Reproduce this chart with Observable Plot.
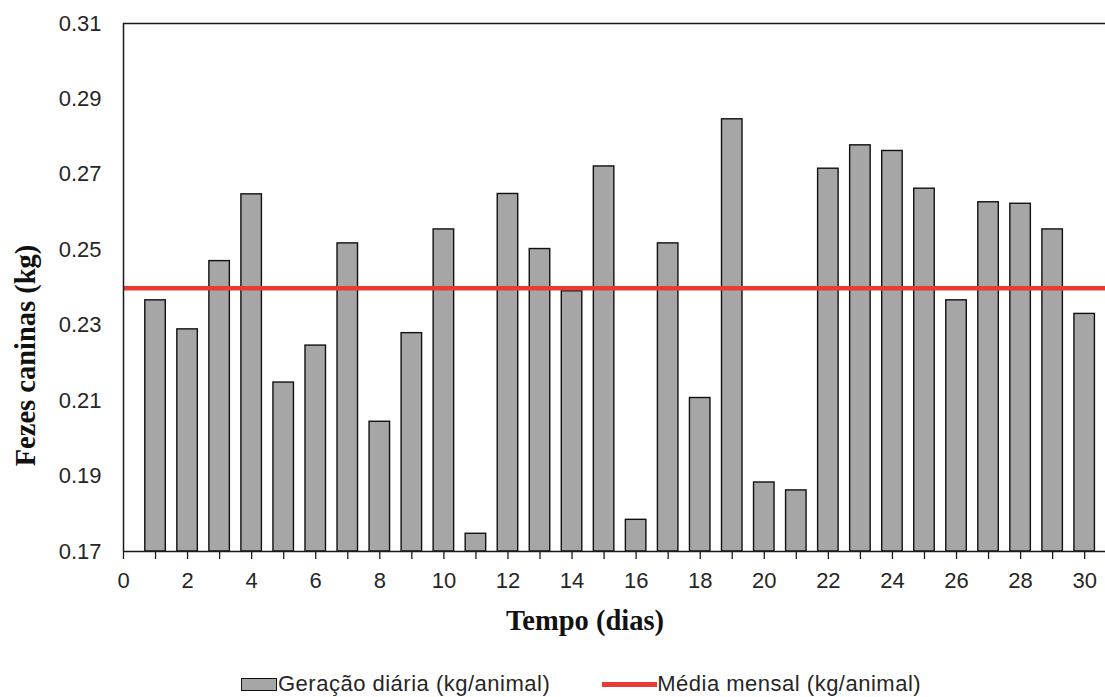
<!DOCTYPE html>
<html>
<head>
<meta charset="utf-8">
<script src="https://cdn.jsdelivr.net/npm/d3@7"></script>
<script src="https://cdn.jsdelivr.net/npm/@observablehq/plot@0.6"></script>
<style>
  body { margin: 0; background: #fff; }
  #wrap { position: relative; width: 1105px; height: 697px; overflow: hidden; }
  #chart svg { display: block; }
  #legend {
    position: absolute; top: 673px; left: 241px;
    display: flex; align-items: center;
    font-family: "Liberation Sans", Arial, sans-serif; font-size: 22px; line-height: 22px;
    color: #262626; letter-spacing: 0.5px; white-space: nowrap;
  }
  .sw-bar { width: 36px; height: 13px; background: #a6a6a6; border: 1.5px solid #111; box-sizing: border-box; margin-right: 1px; }
  .sw-line { width: 55px; height: 5px; background: #ea3b32; margin-left: 52px; }
</style>
</head>
<body>
<div id="wrap">
  <div id="chart"></div>
  <div id="legend"></div>
</div>
<script>
// ---- data ----
const days = [1, 2, 3, 4, 5, 6, 7, 8, 9, 10, 11, 12, 13, 14, 15, 16, 17, 18, 19, 20, 21, 22, 23, 24, 25, 26, 27, 28, 29, 30];
const daily = [0.2366, 0.2289, 0.2470, 0.2647, 0.2148, 0.2246, 0.2517, 0.2044, 0.2279, 0.2554,
               0.1747, 0.2648, 0.2502, 0.2390, 0.2721, 0.1784, 0.2517, 0.2107, 0.2846, 0.1883,
               0.1862, 0.2715, 0.2777, 0.2762, 0.2662, 0.2366, 0.2626, 0.2622, 0.2554, 0.2330];
const monthlyMean = [0.2398];
const yTicks = [0.17, 0.19, 0.21, 0.23, 0.25, 0.27, 0.29, 0.31];
const xLabelTicks = [0, 2, 4, 6, 8, 10, 12, 14, 16, 18, 20, 22, 24, 26, 28, 30];
const xMinorTicks = [0, 1, 2, 3, 4, 5, 6, 7, 8, 9, 10, 11, 12, 13, 14, 15, 16, 17, 18, 19, 20, 21, 22, 23, 24, 25, 26, 27, 28, 29, 30];
const yTitle = "Fezes caninas (kg)";
const xTitle = "Tempo (dias)";
const seriesNames = ["Geração diária (kg/animal)", "Média mensal (kg/animal)"];

const data = days.map((d, i) => ({ day: d, value: daily[i] }));
const halfW = 0.32;
const serif = "Liberation Serif, Times New Roman, serif";

const chart = Plot.plot({
  width: 1105,
  height: 660,
  marginLeft: 123,
  marginRight: 0,
  marginTop: 23,
  marginBottom: 109,
  x: { domain: [0, 30.65] },
  y: { domain: [0.17, 0.31] },
  style: { fontFamily: "Liberation Sans, Arial, sans-serif", fontSize: "22px", color: "#262626", background: "#fff", overflow: "visible" },
  marks: [
    Plot.rectY(data, { x1: d => d.day - halfW, x2: d => d.day + halfW, y1: 0.17, y2: "value", fill: "#a6a6a6", stroke: "#111", strokeWidth: 1.4 }),
    Plot.ruleY(monthlyMean, { stroke: "#ea3b32", strokeWidth: 4.5 }),
    Plot.ruleX([0], { stroke: "#1a1a1a", strokeWidth: 1.5 }),
    Plot.ruleY([0.17], { stroke: "#1a1a1a", strokeWidth: 1.5 }),
    Plot.ruleY([0.31], { stroke: "#1a1a1a", strokeWidth: 1.5 }),
    Plot.axisY({ ticks: yTicks, tickSize: 0, tickPadding: 22, tickFormat: d3.format(".2f"), fontSize: 22, label: null }),
    Plot.axisX({ ticks: xMinorTicks, tickSize: 8, tickFormat: () => "", label: null, stroke: "#1a1a1a", strokeWidth: 1.3 }),
    Plot.axisX({ ticks: xLabelTicks, tickSize: 0, tickPadding: 21, tickFormat: d3.format("d"), fontSize: 22, label: null }),
    Plot.text([yTitle], { frameAnchor: "left", textAnchor: "middle", lineAnchor: "middle", rotate: -90, dx: -98, dy: 68, fontFamily: serif, fontWeight: "bold", fontSize: 28.5, fill: "#111" }),
    Plot.text([xTitle], { frameAnchor: "bottom", textAnchor: "middle", lineAnchor: "bottom", dx: -29.5, dy: 78, fontFamily: serif, fontWeight: "bold", fontSize: 28.5, fill: "#111" })
  ]
});
document.getElementById("chart").appendChild(chart);

const legend = document.getElementById("legend");
legend.innerHTML =
  `<span class="sw-bar"></span><span>${seriesNames[0]}</span>` +
  `<span class="sw-line"></span><span>${seriesNames[1]}</span>`;
</script>
</body>
</html>
